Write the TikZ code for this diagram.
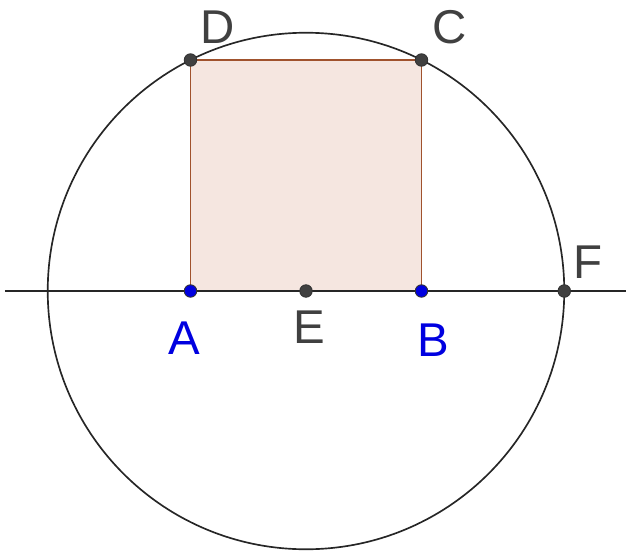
\documentclass[tikz,border=0pt]{standalone}
\usepackage{fontspec}
\setmainfont{Liberation Sans}
\usepackage{xcolor}
\usetikzlibrary{positioning}
\usetikzlibrary{calc}
\definecolor{ptgray}{HTML}{404040}
\definecolor{ptblue}{HTML}{0000E0}
\definecolor{sqedge}{HTML}{A0522D}
\definecolor{sqfill}{HTML}{F5E6E0}
\tikzset{
    pt/.style={circle,fill=ptgray,draw=black!80,line width=0.5pt,inner sep=0pt,minimum size=0.25cm},
    bpt/.style={pt,fill=ptblue},
    lbl/.style={text=ptgray,font=\fontsize{27}{30}\selectfont,inner sep=0pt},
    blbl/.style={lbl,text=ptblue}
}

\begin{document}
\begin{tikzpicture}[x=0.02cm,y=0.02cm,line width=0.95pt]
    \useasboundingbox (-306,-261) rectangle (320,291);

    \coordinate (E) at (0,0);
    \coordinate (A) at (-115.5,0);
    \coordinate (B) at (115.5,0);
    \coordinate (C) at (115.5,231);
    \coordinate (D) at (-115.5,231);
    \coordinate (L) at (-301,0);
    \coordinate (R) at (320,0);

    \filldraw[fill=sqfill,draw=sqedge,line width=1.1pt] (A) -- (B) -- (C) -- (D) -- cycle;
    \draw[black!85] let \p1=($(C)-(E)$), \n1={veclen(\x1,\y1)} in (E) circle (\n1);
    \coordinate (F) at (258.3,0);
    \draw[black!85] (L) -- (R);

    \node[pt]  (pD) at (D) {};
    \node[pt]  (pC) at (C) {};
    \node[pt]  (pE) at (E) {};
    \node[pt]  (pF) at (F) {};
    \node[bpt] (pA) at (A) {};
    \node[bpt] (pB) at (B) {};

    \node[lbl]  at (-88,264) {D};
    \node[lbl]  at (144,264) {C};
    \node[lbl]  at (282,29)  {F};
    \node[lbl]  at (3,-36)   {E};
    \node[blbl] at (-122,-47) {A};
    \node[blbl] at (127,-49) {B};
\end{tikzpicture}
\end{document}
